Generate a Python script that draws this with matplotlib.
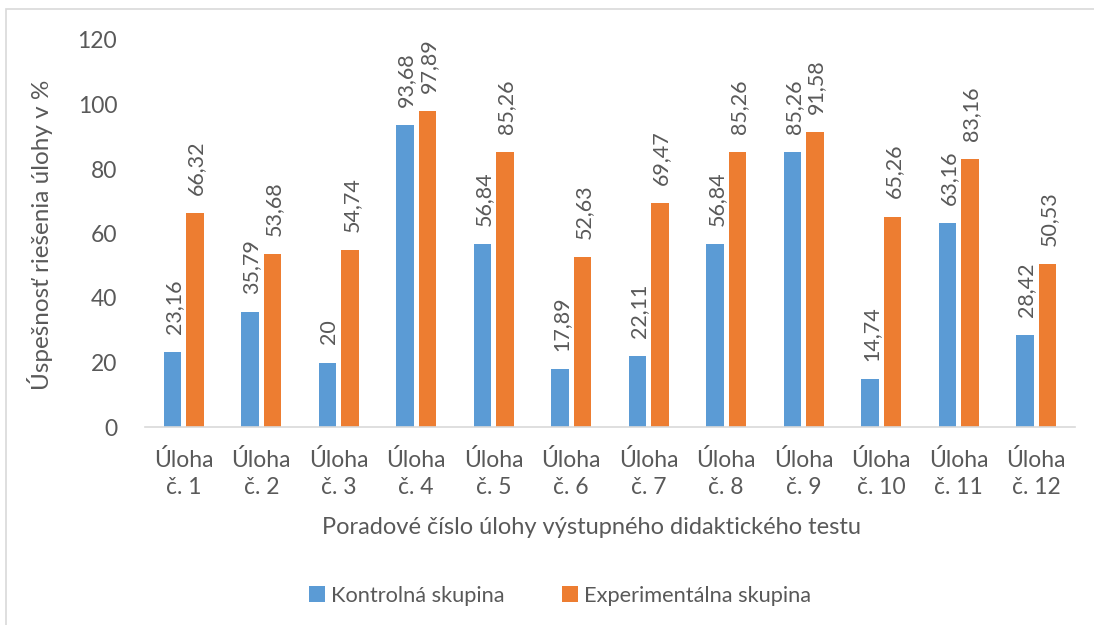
import matplotlib
matplotlib.use('Agg')
import matplotlib.pyplot as plt
import numpy as np
from matplotlib.patches import Rectangle

plt.rcParams['font.family'] = ['Lato', 'DejaVu Sans']

ulohy = ['Úloha\nč. %d' % i for i in range(1, 13)]
kontrolna = [23.16, 35.79, 20, 93.68, 56.84, 17.89, 22.11, 56.84, 85.26, 14.74, 63.16, 28.42]
experimentalna = [66.32, 53.68, 54.74, 97.89, 85.26, 52.63, 69.47, 85.26, 91.58, 65.26, 83.16, 50.53]

text_col = '#595959'
blue = '#5b9bd5'
orange = '#ed7d31'

W, H = 1094, 625
fig = plt.figure(figsize=(W / 100, H / 100), dpi=100)
ax = fig.add_axes([145 / W, 1 - 427 / H, (1075 - 145) / W, (427 - 40) / H])

# light frame around the chart area
fig.patches.append(Rectangle((6 / W, -0.1), 1.2, 1 - 9 / H + 0.1, transform=fig.transFigure,
                             fill=False, edgecolor='#d9d9d9', linewidth=1.2))

x = np.arange(len(ulohy))
w = 0.226
off = 0.145
b1 = ax.bar(x - off, kontrolna, w, color=blue, label='Kontrolná skupina')
b2 = ax.bar(x + off, experimentalna, w, color=orange, label='Experimentálna skupina')

def fmt(v):
    s = ('%.2f' % v).rstrip('0').rstrip('.')
    return s.replace('.', ',')

for bars, vals in ((b1, kontrolna), (b2, experimentalna)):
    for rect, v in zip(bars, vals):
        ax.annotate(fmt(v), (rect.get_x() + rect.get_width() / 2, v),
                    xytext=(1, 13), textcoords='offset points', rotation=90,
                    ha='center', va='bottom', fontsize=15.5, color=text_col)

ax.set_xlim(-0.5, len(ulohy) - 0.5)
ax.set_ylim(0, 120)
ax.set_yticks(np.arange(0, 121, 20))
ax.set_xticks(x)
ax.set_xticklabels(ulohy, linespacing=1.35)
ax.tick_params(axis='both', length=0, labelsize=16.5, colors=text_col)
ax.tick_params(axis='y', pad=20)
ax.tick_params(axis='x', pad=16)

for s in ('top', 'right', 'left'):
    ax.spines[s].set_visible(False)
ax.spines['bottom'].set_color('#d9d9d9')
ax.spines['bottom'].set_linewidth(1.2)

fig.text(40 / W, 1 - 235 / H, 'Úspešnosť riešenia úlohy v %', rotation=90,
         ha='center', va='center', fontsize=17.5, color=text_col)
fig.text(591 / W, 1 - 527 / H, 'Poradové číslo úlohy výstupného didaktického testu',
         ha='center', va='center', fontsize=17, color=text_col)

fig.legend(handles=[b1, b2], loc='center', bbox_to_anchor=(560 / W, 1 - 596 / H), ncol=2,
           frameon=False, fontsize=15.7, labelcolor=text_col, handlelength=0.75,
           handleheight=0.75, handletextpad=0.3, columnspacing=2.6)

plt.savefig('out.png', dpi=100)
